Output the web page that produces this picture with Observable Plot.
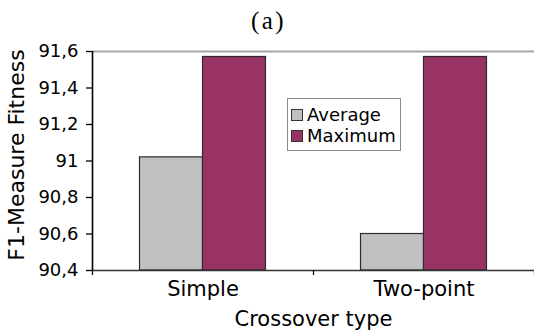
<!DOCTYPE html>
<html>
<head>
<meta charset="utf-8">
<script src="https://cdn.jsdelivr.net/npm/d3@7"></script>
<script src="https://cdn.jsdelivr.net/npm/@observablehq/plot@0.6"></script>
<style>
  body { margin: 0; background: #fff; }
  #chart { position: relative; width: 534px; height: 331px; font-family: "DejaVu Sans", sans-serif; color: #000; }
  #title { height: 29px; padding-top: 4px; padding-left: 3px; line-height: 33px; text-align: center; font-family: "Liberation Serif", serif; font-size: 25px; letter-spacing: 2.5px; }
  #legend { position: absolute; left: 287px; top: 98px; width: 112px; height: 46px; padding-top: 5px;
            border: 1px solid #8c8c8c; background: #fff; font-size: 18px; }
  #legend .row { display: flex; align-items: center; height: 21px; }
  #legend .sw { width: 10px; height: 10px; border: 1px solid #333; margin-left: 3px; margin-right: 4px; }
  svg { display: block; }
</style>
</head>
<body>
<div id="chart">
  <div id="title">(a)</div>
</div>
<script>
// Crossover operators compared, with average and best F1-measure fitness
const categories = ["Simple", "Two-point"];
const series = ["Average", "Maximum"];
const average = [91.02, 90.60];
const maximum = [91.57, 91.57];
const colors = ["#c0c0c0", "#993366"];
const yTicks = [90.4, 90.6, 90.8, 91.0, 91.2, 91.4, 91.6];

const rows = categories.flatMap((category, i) => [
  {category, index: i, series: "Average", value: average[i]},
  {category, index: i, series: "Maximum", value: maximum[i]}
]);

const barWidth = 0.285;          // share of one category slot taken by a single bar
const yMin = yTicks[0], yMax = yTicks[yTicks.length - 1];
const slotEdges = d3.range(categories.length + 1).map(i => i - 0.5);
const commaFormat = d => String(+d.toFixed(1)).replace(".", ",");

const chart = Plot.plot({
  width: 534,
  height: 298,
  marginTop: 18,
  marginLeft: 92,
  marginRight: 0,
  marginBottom: 61,
  style: {fontFamily: "DejaVu Sans", fontSize: "18px", color: "#000", background: "transparent", overflow: "visible"},
  x: {type: "linear", domain: [-0.5, categories.length - 0.5], axis: null},
  y: {domain: [yMin, yMax], axis: null},
  color: {domain: series, range: colors},
  marks: [
    Plot.ruleY([yMax], {stroke: "#a6a6a6", strokeWidth: 2}),
    Plot.rect(rows, {
      x1: d => d.index + (d.series === "Average" ? -barWidth : 0),
      x2: d => d.index + (d.series === "Average" ? 0 : barWidth),
      y1: () => yMin,
      y2: "value",
      fill: "series",
      stroke: "#2b2b2b",
      strokeWidth: 1.2
    }),
    Plot.ruleY([yMin], {stroke: "#333", strokeWidth: 1.6}),
    Plot.ruleX([-0.5], {stroke: "#000", strokeWidth: 1.6}),
    Plot.axisY({ticks: yTicks, tickSize: 6, tickPadding: 8, tickFormat: commaFormat, label: null, fontSize: 18, strokeWidth: 1.3}),
    Plot.axisX({ticks: slotEdges, tickSize: 5, tickFormat: () => "", label: null, strokeWidth: 1.3}),
    Plot.axisX({ticks: d3.range(categories.length), tickSize: 0, tickPadding: 11, tickFormat: i => categories[i], label: null, fontSize: 21}),
    Plot.text(["Crossover type"], {frameAnchor: "bottom", lineAnchor: "middle", dy: 49, fontSize: 21}),
    Plot.text(["F1-Measure Fitness"], {frameAnchor: "left", textAnchor: "middle", lineAnchor: "middle", rotate: -90, dx: -76, dy: -6, fontSize: 22})
  ]
});

const root = document.getElementById("chart");
root.appendChild(chart);

// Legend box drawn from the series and colour lists
const legend = document.createElement("div");
legend.id = "legend";
series.forEach((name, i) => {
  const row = document.createElement("div");
  row.className = "row";
  const sw = document.createElement("span");
  sw.className = "sw";
  sw.style.background = colors[i];
  const label = document.createElement("span");
  label.textContent = name;
  row.append(sw, label);
  legend.appendChild(row);
});
root.appendChild(legend);
</script>
</body>
</html>
